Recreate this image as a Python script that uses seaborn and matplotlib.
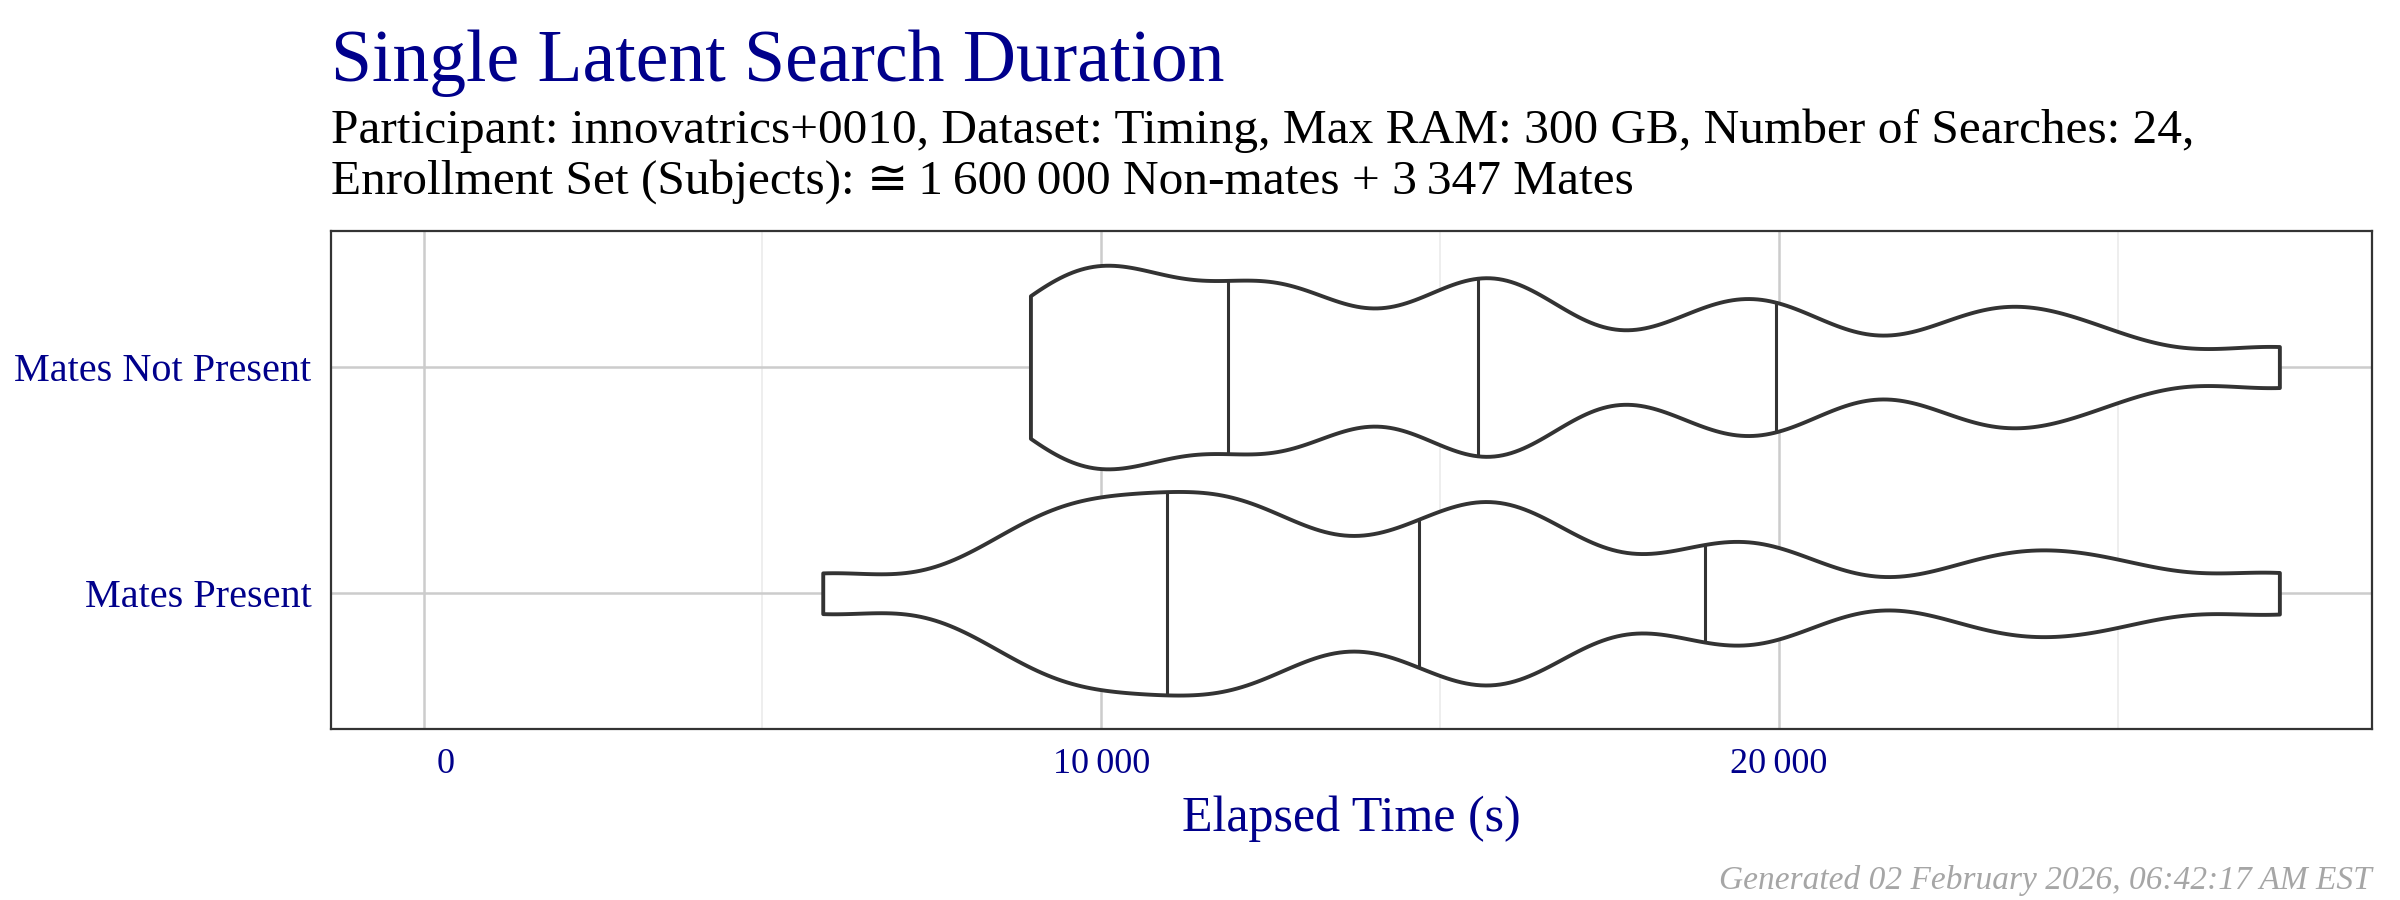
import numpy as np
import pandas as pd
import matplotlib
matplotlib.use("Agg")
import matplotlib.pyplot as plt
import seaborn as sns
from matplotlib.ticker import FuncFormatter

# Elapsed time (s) of each search, estimated from the violin shapes
mates_not_present = [8954, 9400, 9800, 10100, 10450, 10900, 12190, 12400, 12700, 13100,
                     15000, 15300, 15810, 16100, 16300, 18800, 19250, 19850, 20250, 22700,
                     23200, 23800, 24800, 27380]
mates_present = [5890, 8500, 9100, 9600, 10000, 10400, 11165, 11500, 11900, 12300,
                 12800, 14300, 15070, 15500, 15850, 16200, 16700, 18700, 19500, 20000,
                 23000, 23900, 25000, 27380]
groups = ["Mates Not Present", "Mates Present"]
x_breaks = [0, 10000, 20000]
x_minor = [5000, 15000, 25000]

title = "Single Latent Search Duration"
subtitle_1 = "Participant: innovatrics+0010, Dataset: Timing, Max RAM: 300 GB, Number of Searches: 24,"
subtitle_2 = "Enrollment Set (Subjects): \u2245\u20091\u2009600\u2009000 Non-mates + 3\u2009347 Mates"
x_label = "Elapsed Time (s)"
footer = "Generated 02 February 2026, 06:42:17 AM EST"

BW = 1000  # kernel bandwidth in seconds

df = pd.DataFrame({
    "group": [groups[0]] * len(mates_not_present) + [groups[1]] * len(mates_present),
    "elapsed": mates_not_present + mates_present,
})


def fixed_bw(kde):
    return BW / np.std(kde.dataset, ddof=1)


def fmt_seconds(v, pos):
    # thin-space thousands, padded to equal width like R's format()
    return f"{int(v):,}".replace(",", "\u2009").rjust(6)


sns.set_theme(style="white")
plt.rcParams["font.family"] = ["Liberation Serif", "DejaVu Serif", "DejaVu Sans"]
navy = "#00008B"
dark = "#333333"

fig = plt.figure(figsize=(12, 4.5), dpi=200)
ax = fig.add_axes([0.1378, 0.190, 0.8506, 0.553])

sns.violinplot(data=df, x="elapsed", y="group", order=groups, orient="h",
               width=0.9, cut=0, density_norm="width", bw_method=fixed_bw,
               gridsize=300, inner="quart",
               inner_kws={"linewidth": 1.1, "dashes": (), "color": dark},
               color="white", linecolor=dark, linewidth=1.4, saturation=1, ax=ax)

# ggplot-like expansion, including 0
lo = min(0, df["elapsed"].min())
hi = df["elapsed"].max()
pad = 0.05 * (hi - lo)
ax.set_xlim(lo - pad, hi + pad)
ax.set_ylim(1.6, -0.6)

ax.set_xticks(x_breaks)
ax.set_xticks(x_minor, minor=True)
ax.xaxis.set_major_formatter(FuncFormatter(fmt_seconds))
ax.set_axisbelow(True)
ax.grid(which="major", axis="both", color="#CCCCCC", linewidth=0.9)
ax.grid(which="minor", axis="x", color="#EBEBEB", linewidth=0.6)
ax.tick_params(which="major", direction="out", length=3, width=1.1, color=dark,
               labelcolor=navy, pad=4)
ax.tick_params(axis="x", labelsize=13)
ax.tick_params(axis="y", labelsize=14.5)
ax.tick_params(which="minor", length=0)
for s in ax.spines.values():
    s.set_visible(True)
    s.set_color(dark)
    s.set_linewidth(0.8)

ax.set_ylabel("")
ax.set_xlabel(x_label, fontsize=18, color=navy, labelpad=5)

fig.text(0.1378, 0.910, title, fontsize=26.5, color=navy, va="baseline")
fig.text(0.1378, 0.841, subtitle_1, fontsize=17.8, color="black", va="baseline")
fig.text(0.1378, 0.7845, subtitle_2, fontsize=17.8, color="black", va="baseline")
fig.text(0.9884, 0.012, footer, fontsize=12, color="#A6A6A6", style="italic",
         ha="right", va="baseline")

fig.savefig("out.png", dpi=200)
